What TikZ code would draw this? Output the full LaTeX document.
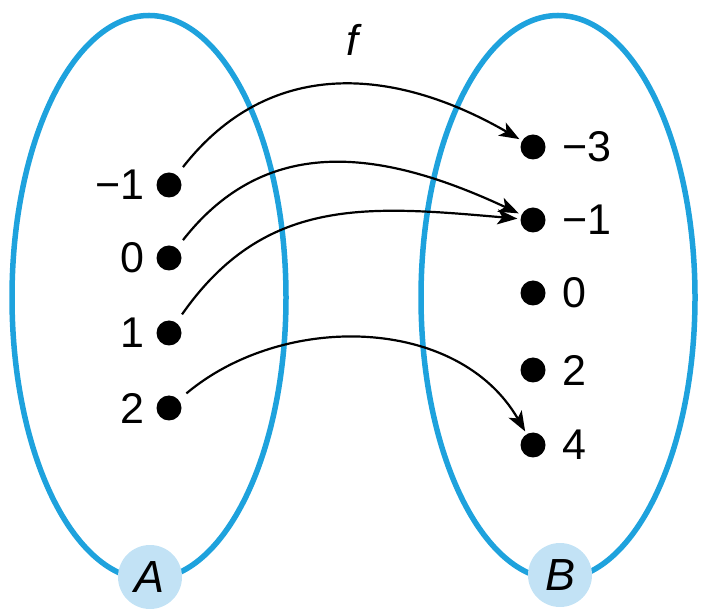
\documentclass[tikz,border=0pt]{standalone}
\usepackage{fontspec}
\setmainfont{Liberation Sans}
\usetikzlibrary{arrows.meta}
\definecolor{setblue}{HTML}{1EA2DD}
\definecolor{setfill}{HTML}{C2E2F5}
\tikzset{
  setline/.style={draw=setblue, line width=5.5pt},
  setlabel/.style={circle, fill=setfill, minimum size=64pt, inner sep=0pt, font=\fontsize{45}{45}\selectfont\itshape},
  elem/.style={circle, fill=black, minimum size=25pt, inner sep=0pt},
  lbl/.style={inner sep=0pt, font=\fontsize{43}{43}\selectfont},
  maparrow/.style={line width=2.2pt, -{Stealth[length=20pt, width=15pt, inset=5pt]}, shorten <=10pt, shorten >=3pt}
}
\begin{document}
\begin{tikzpicture}[x=1pt, y=1pt]
\useasboundingbox (0,0) rectangle (706,613);
% sets
\draw[setline] (149,315.5) ellipse [x radius=137, y radius=282];
\draw[setline] (558,315.5) ellipse [x radius=137, y radius=282];
\node[setlabel] (A) at (150,36) {A};
\node[setlabel] (B) at (560,38) {B};
% domain
\node[elem] (a1) at (169,428) {};
\node[elem] (a2) at (169,355) {};
\node[elem] (a3) at (169,280) {};
\node[elem] (a4) at (169,205) {};
\node[lbl, anchor=east] (la1) at (145,428) {−1};
\node[lbl, anchor=east] (la2) at (145,355) {0};
\node[lbl, anchor=east] (la3) at (145,280) {1};
\node[lbl, anchor=east] (la4) at (145,205) {2};
% codomain
\node[elem] (b1) at (533,466) {};
\node[elem] (b2) at (533,393) {};
\node[elem] (b3) at (533,320) {};
\node[elem] (b4) at (533,243) {};
\node[elem] (b5) at (533,168) {};
\node[lbl, anchor=west] (lb1) at (562,466) {−3};
\node[lbl, anchor=west] (lb2) at (562,393) {−1};
\node[lbl, anchor=west] (lb3) at (562,320) {0};
\node[lbl, anchor=west] (lb4) at (562,243) {2};
\node[lbl, anchor=west] (lb5) at (562,168) {4};
% function name
\node[lbl, font=\fontsize{43}{43}\selectfont\itshape] (f) at (352,573) {f};
% mapping
\draw[maparrow] (a1) to[out=52, in=150, looseness=1.1] (b1);
\draw[maparrow] (a2) to[out=52, in=155, looseness=1.1] (b2);
\draw[maparrow] (a3) to[out=55, in=175, looseness=1.1] (b2);
\draw[maparrow] (a4) to[out=40, in=120, looseness=1.0] (b5);
\end{tikzpicture}
\end{document}
